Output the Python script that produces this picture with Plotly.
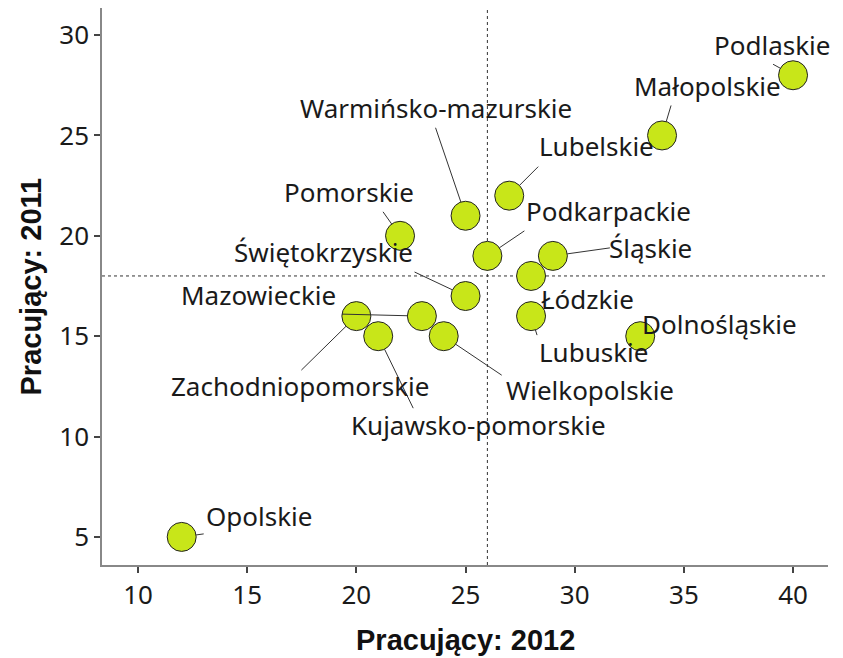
import math
import plotly.graph_objects as go

# Data
regions = ["Podlaskie", "Małopolskie", "Lubelskie", "Warmińsko-mazurskie", "Pomorskie",
           "Podkarpackie", "Śląskie", "Łódzkie", "Świętokrzyskie", "Mazowieckie",
           "Zachodniopomorskie", "Kujawsko-pomorskie", "Wielkopolskie", "Lubuskie",
           "Dolnośląskie", "Opolskie"]
pracujacy_2012 = [40, 34, 27, 25, 22, 26, 29, 28, 25, 23, 20, 21, 24, 28, 33, 12]
pracujacy_2011 = [28, 25, 22, 21, 20, 19, 19, 18, 17, 16, 16, 15, 15, 16, 15, 5]
ref_x = 26
ref_y = 18
x_title = "Pracujący: 2012"
y_title = "Pracujący: 2011"

# Layout only: label centre offsets (screen px, y down) and leader-line far ends
label_offsets = {
    "Podlaskie": (-21, -30),
    "Małopolskie": (45, -49),
    "Lubelskie": (87, -50),
    "Warmińsko-mazurskie": (-30, -108),
    "Pomorskie": (-51, -44),
    "Podkarpackie": (121, -45),
    "Śląskie": (98, -8),
    "Łódzkie": (56, 23),
    "Świętokrzyskie": (-142, -44),
    "Mazowieckie": (-163, -21),
    "Zachodniopomorskie": (-56, 70),
    "Kujawsko-pomorskie": (100, 89),
    "Wielkopolskie": (146, 54),
    "Lubuskie": (62, 36),
    "Dolnośląskie": (79, -12),
    "Opolskie": (77, -21),
}
leader_ends = {
    "Podlaskie": (-20, -11),
    "Małopolskie": (9, -30),
    "Lubelskie": (29, -29),
    "Warmińsko-mazurskie": (-30, -88),
    "Pomorskie": (-17, -24),
    "Podkarpackie": (37, -25),
    "Śląskie": (57, -8),
    "Świętokrzyskie": (-51, -24),
    "Mazowieckie": (-80, -2),
    "Zachodniopomorskie": (-55, 54),
    "Kujawsko-pomorskie": (35, 72),
    "Wielkopolskie": (58, 39),
    "Lubuskie": (6, 19),
    "Opolskie": (22, -3),
}

FONT = "Noto Sans"
FS = 26
MARKER = 29
R = MARKER / 2

fig = go.Figure()
fig.add_trace(go.Scatter(
    x=pracujacy_2012, y=pracujacy_2011, mode="markers",
    marker=dict(size=MARKER, color="#c8e619", line=dict(color="#222222", width=1)),
    hoverinfo="text", text=regions, showlegend=False,
))

shapes = [
    dict(type="line", xref="x", yref="paper", x0=ref_x, x1=ref_x, y0=0, y1=1,
         line=dict(color="#333333", width=1, dash="3px,3px"), layer="below"),
    dict(type="line", xref="paper", yref="y", x0=0, x1=1, y0=ref_y, y1=ref_y,
         line=dict(color="#333333", width=1, dash="3px,3px"), layer="below"),
]
annotations = []
for name, xv, yv in zip(regions, pracujacy_2012, pracujacy_2011):
    if name in leader_ends:
        dx, dy = leader_ends[name]
        L = math.hypot(dx, dy)
        sx, sy = dx / L * R, dy / L * R
        shapes.append(dict(
            type="line", xref="x", yref="y", xsizemode="pixel", ysizemode="pixel",
            xanchor=xv, yanchor=yv, x0=sx, y0=-sy, x1=dx, y1=-dy,
            line=dict(color="#333333", width=1), layer="above",
        ))
    ax, ay = label_offsets[name]
    annotations.append(dict(
        x=xv, y=yv, xref="x", yref="y", text=name, showarrow=False,
        xshift=ax, yshift=-ay, xanchor="center", yanchor="middle",
        font=dict(family=FONT, size=FS, color="#1a1a1a"),
    ))

annotations.append(dict(
    x=0.5, y=0, xref="paper", yref="paper", yshift=-75, xanchor="center", yanchor="middle",
    text="<b>" + x_title + "</b>", showarrow=False,
    font=dict(family="Liberation Sans", size=29, color="#111111"),
))
annotations.append(dict(
    x=0, y=0.5, xref="paper", yref="paper", xshift=-72, xanchor="center", yanchor="middle",
    text="<b>" + y_title + "</b>", showarrow=False, textangle=-90,
    font=dict(family="Liberation Sans", size=29, color="#111111"),
))

fig.update_layout(
    width=843, height=658,
    margin=dict(l=94, r=23, t=0, b=101),
    paper_bgcolor="white", plot_bgcolor="white",
    annotations=annotations,
    shapes=shapes,
)
fig.update_xaxes(
    range=[8.35, 41.6], tickvals=[10, 15, 20, 25, 30, 35, 40],
    showgrid=False, zeroline=False, showline=True, linecolor="#888888", linewidth=1.5,
    ticks="outside", ticklen=6, tickcolor="#444444", tickwidth=1.5,
    tickfont=dict(family=FONT, size=FS, color="#1a1a1a"), automargin=False,
)
fig.update_yaxes(
    range=[3.6, 31.35], tickvals=[5, 10, 15, 20, 25, 30],
    showgrid=False, zeroline=False, showline=True, linecolor="#888888", linewidth=1.5,
    ticks="outside", ticklen=6, tickcolor="#444444", tickwidth=1.5,
    tickfont=dict(family=FONT, size=FS, color="#1a1a1a"), automargin=False,
)

fig.write_html("out.html")
